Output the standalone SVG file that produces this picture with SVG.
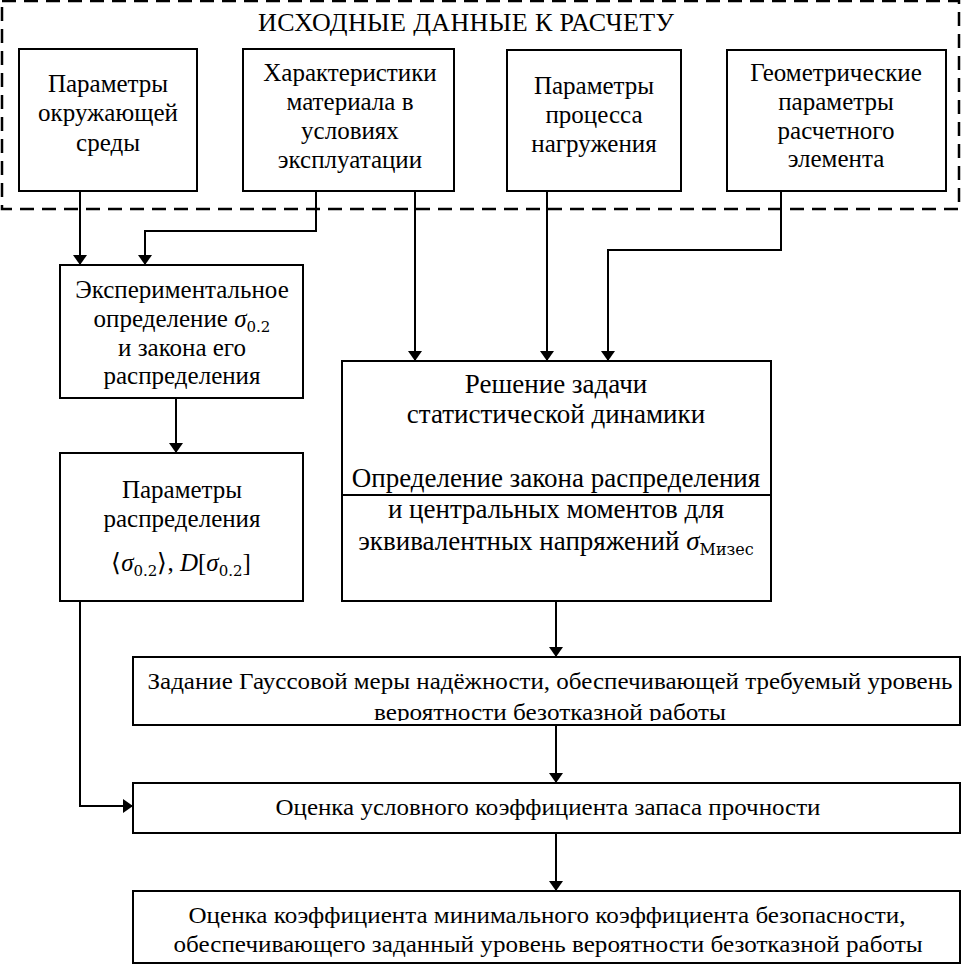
<svg xmlns="http://www.w3.org/2000/svg" width="962" height="965" viewBox="0 0 962 965">
<style>
.box{fill:#fff;stroke:#000;stroke-width:2}
.t{font-family:"Liberation Serif","Times New Roman",serif;font-size:25px;fill:#000;text-anchor:middle}
.big{font-size:27px}
.m{font-family:"Liberation Serif",serif;font-style:italic}
.sub{font-family:"DejaVu Serif","Liberation Serif",serif;font-size:15px;font-style:normal}
.c{fill:none;stroke:#000;stroke-width:2}
</style>
<defs>
<marker id="a" viewBox="0 0 10 14" refX="10" refY="7" markerWidth="10" markerHeight="14" markerUnits="userSpaceOnUse" orient="auto"><path d="M0,0 L10,7 L0,14 Z" fill="#000"/></marker>
<clipPath id="clipG"><rect x="134" y="658" width="826" height="63"/></clipPath>
</defs>
<rect width="962" height="965" fill="#fff"/>
<g id="inputs">
<rect x="2" y="1" width="957" height="208" fill="none" stroke="#000" stroke-width="2.5" stroke-dasharray="14,8"/>
<text class="t" x="466" y="31" style="font-size:26px" textLength="416" lengthAdjust="spacing">ИСХОДНЫЕ  ДАННЫЕ  К  РАСЧЕТУ</text>
</g>
<g id="n1"><rect class="box" x="19" y="49" width="178" height="142"/>
<text class="t" x="108" y="92">Параметры</text><text class="t" x="108" y="121">окружающей</text><text class="t" x="108" y="151">среды</text></g>
<g id="n2"><rect class="box" x="243" y="49" width="211" height="142"/>
<text class="t" x="350" y="81">Характеристики</text><text class="t" x="350" y="110">материала в</text><text class="t" x="350" y="139">условиях</text><text class="t" x="350" y="168">эксплуатации</text></g>
<g id="n3"><rect class="box" x="507" y="50" width="174" height="141"/>
<text class="t" x="594" y="94">Параметры</text><text class="t" x="594" y="123">процесса</text><text class="t" x="594" y="152">нагружения</text></g>
<g id="n4"><rect class="box" x="727" y="50" width="219" height="141"/>
<text class="t" x="836" y="81">Геометрические</text><text class="t" x="836" y="110">параметры</text><text class="t" x="836" y="139">расчетного</text><text class="t" x="836" y="167">элемента</text></g>
<g id="n5"><rect class="box" x="60" y="265" width="243" height="133"/>
<text class="t" x="182" y="298">Экспериментальное</text>
<text class="t" x="182" y="327">определение <tspan class="m">σ</tspan><tspan class="sub" dy="5">0.2</tspan></text>
<text class="t" x="182" y="356">и закона его</text><text class="t" x="182" y="384">распределения</text></g>
<g id="n6"><rect class="box" x="60" y="453" width="243" height="148"/>
<text class="t" x="182" y="498">Параметры</text><text class="t" x="182" y="527">распределения</text>
<text class="t" x="181" y="571">⟨<tspan class="m">σ</tspan><tspan class="sub" dy="5">0.2</tspan><tspan dy="-5">⟩, </tspan><tspan class="m">D</tspan>[<tspan class="m">σ</tspan><tspan class="sub" dy="5">0.2</tspan><tspan dy="-5">]</tspan></text></g>
<g id="n7"><rect class="box" x="342" y="361" width="429" height="240"/>
<line x1="342" y1="495" x2="771" y2="495" stroke="#000" stroke-width="2"/>
<text class="t big" x="556" y="393">Решение задачи</text><text class="t big" x="556" y="423">статистической динамики</text>
<text class="t big" x="556" y="487">Определение закона распределения</text>
<text class="t big" x="556" y="518">и центральных моментов для</text>
<text class="t big" x="556" y="550">эквивалентных напряжений <tspan class="m">σ</tspan><tspan class="sub" dy="5" style="font-size:16px">Мизес</tspan></text></g>
<g id="n8"><rect class="box" x="133" y="657" width="827" height="68"/>
<text class="t" x="550" y="689" style="font-size:23px" textLength="805" lengthAdjust="spacingAndGlyphs">Задание Гауссовой меры надёжности, обеспечивающей требуемый уровень</text>
<text class="t" x="550" y="720" style="font-size:23px" textLength="352" lengthAdjust="spacingAndGlyphs" clip-path="url(#clipG)">вероятности безотказной работы</text></g>
<g id="n9"><rect class="box" x="133" y="783" width="827" height="50"/>
<text class="t" x="548" y="815" style="font-size:23px" textLength="545" lengthAdjust="spacingAndGlyphs">Оценка условного коэффициента запаса прочности</text></g>
<g id="n10"><rect class="box" x="133" y="891" width="827" height="72"/>
<text class="t" x="547" y="923" style="font-size:23px" textLength="717" lengthAdjust="spacingAndGlyphs">Оценка коэффициента минимального коэффициента безопасности,</text>
<text class="t" x="548" y="952" style="font-size:23px" textLength="749" lengthAdjust="spacingAndGlyphs">обеспечивающего заданный уровень вероятности безотказной работы</text></g>
<g id="connectors">
<path class="c" d="M80,191 V265" marker-end="url(#a)"/>
<path class="c" d="M316,191 V231 H145 V265" marker-end="url(#a)"/>
<path class="c" d="M415,191 V361" marker-end="url(#a)"/>
<path class="c" d="M547,191 V361" marker-end="url(#a)"/>
<path class="c" d="M781,191 V250 H608 V361" marker-end="url(#a)"/>
<path class="c" d="M176,398 V453" marker-end="url(#a)"/>
<path class="c" d="M80,601 V806 H133" marker-end="url(#a)"/>
<path class="c" d="M556,601 V657" marker-end="url(#a)"/>
<path class="c" d="M556,725 V783" marker-end="url(#a)"/>
<path class="c" d="M556,833 V891" marker-end="url(#a)"/>
</g>
</svg>
